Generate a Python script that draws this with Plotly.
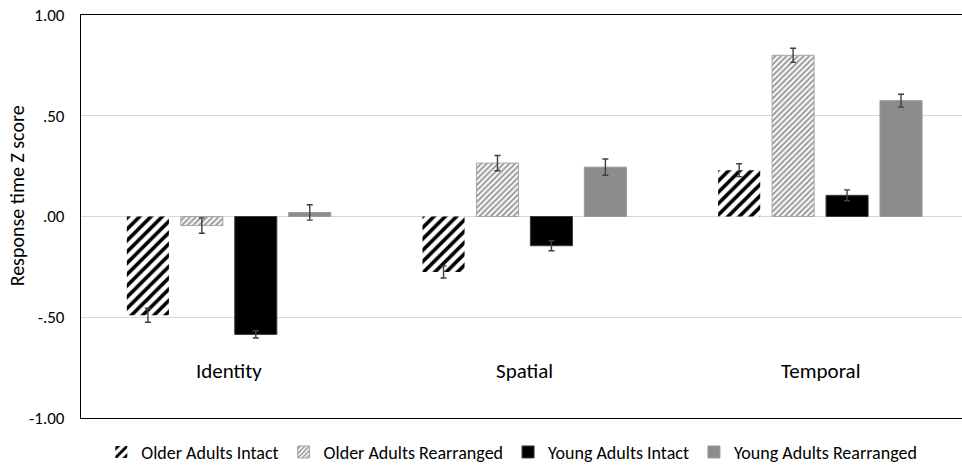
import plotly.graph_objects as go

# Task conditions on the category axis
categories = ["Identity", "Spatial", "Temporal"]

# Mean response-time Z scores per group and condition
older_intact = [-0.49, -0.275, 0.23]
older_rearranged = [-0.045, 0.265, 0.80]
young_intact = [-0.585, -0.145, 0.105]
young_rearranged = [0.02, 0.245, 0.575]

# Standard errors
older_intact_se = [0.035, 0.03, 0.032]
older_rearranged_se = [0.038, 0.038, 0.035]
young_intact_se = [0.018, 0.025, 0.027]
young_rearranged_se = [0.038, 0.04, 0.032]

y_ticks = [1.0, 0.5, 0.0, -0.5, -1.0]
y_tick_labels = ["1.00", ".50", ".00", "-.50", "-1.00"]
y_title = "Response time Z score"

FONT = "Carlito, Lato, 'Noto Sans', sans-serif"
ERR_COLOR = "#3f3f3f"


def err(vals):
    return dict(type="data", array=vals, visible=True,
                color=ERR_COLOR, thickness=1.4, width=3)


series = [
    dict(name="Older Adults Intact", y=older_intact, se=older_intact_se,
         marker=dict(color="white",
                     pattern=dict(shape="/", fgcolor="black", bgcolor="white",
                                  size=8, solidity=0.45, fillmode="replace"),
                     line=dict(color="white", width=0))),
    dict(name="Older Adults Rearranged", y=older_rearranged, se=older_rearranged_se,
         marker=dict(color="white",
                     pattern=dict(shape="/", fgcolor="#9a9a9a", bgcolor="white",
                                  size=4, solidity=0.5, fillmode="replace"),
                     line=dict(color="#a6a6a6", width=1))),
    dict(name="Young Adults Intact", y=young_intact, se=young_intact_se,
         marker=dict(color="black", line=dict(color="#3a3a3a", width=1))),
    dict(name="Young Adults Rearranged", y=young_rearranged, se=young_rearranged_se,
         marker=dict(color="#8c8c8c", line=dict(color="#9a9a9a", width=1))),
]

fig = go.Figure()
for s in series:
    fig.add_trace(go.Bar(x=categories, y=s["y"], name=s["name"],
                         marker=s["marker"], error_y=err(s["se"])))

# Category labels sit inside the plot area, between -.50 and -1.00
for c in categories:
    fig.add_annotation(x=c, y=-0.765, text=c, showarrow=False,
                       font=dict(family=FONT, size=21, color="black"),
                       xref="x", yref="y")

# Rotated y-axis title
fig.add_annotation(x=0, y=0.55, xref="paper", yref="paper",
                   xanchor="center", yanchor="middle", xshift=-64,
                   text=y_title, textangle=-90, showarrow=False,
                   font=dict(family=FONT, size=20, color="black"))

fig.update_layout(
    width=962, height=471,
    margin=dict(l=81, r=0, t=15, b=44),
    paper_bgcolor="white", plot_bgcolor="white",
    barmode="group", bargap=0.27, bargroupgap=0.22,
    font=dict(family=FONT, size=15, color="black"),
    showlegend=True,
    legend=dict(orientation="h", x=0.489, xanchor="center",
                y=-0.085, yanchor="middle",
                font=dict(family=FONT, size=18, color="black"),
                traceorder="normal", itemwidth=30),
    xaxis=dict(type="category", range=[-0.5, 2.48],
               showticklabels=False, ticks="", showgrid=False,
               showline=True, linecolor="black", linewidth=1.3, mirror=True,
               zeroline=False),
    yaxis=dict(range=[-1.0, 1.0], tickvals=y_ticks, ticktext=y_tick_labels,
               showgrid=True, gridcolor="#d9d9d9", gridwidth=1,
               zeroline=True, zerolinecolor="#d9d9d9", zerolinewidth=1,
               showline=True, linecolor="black", linewidth=1.3, mirror=False,
               ticks="", ticklabelstandoff=12,
               tickfont=dict(family=FONT, size=17)),
)

fig.write_html("out.html")
